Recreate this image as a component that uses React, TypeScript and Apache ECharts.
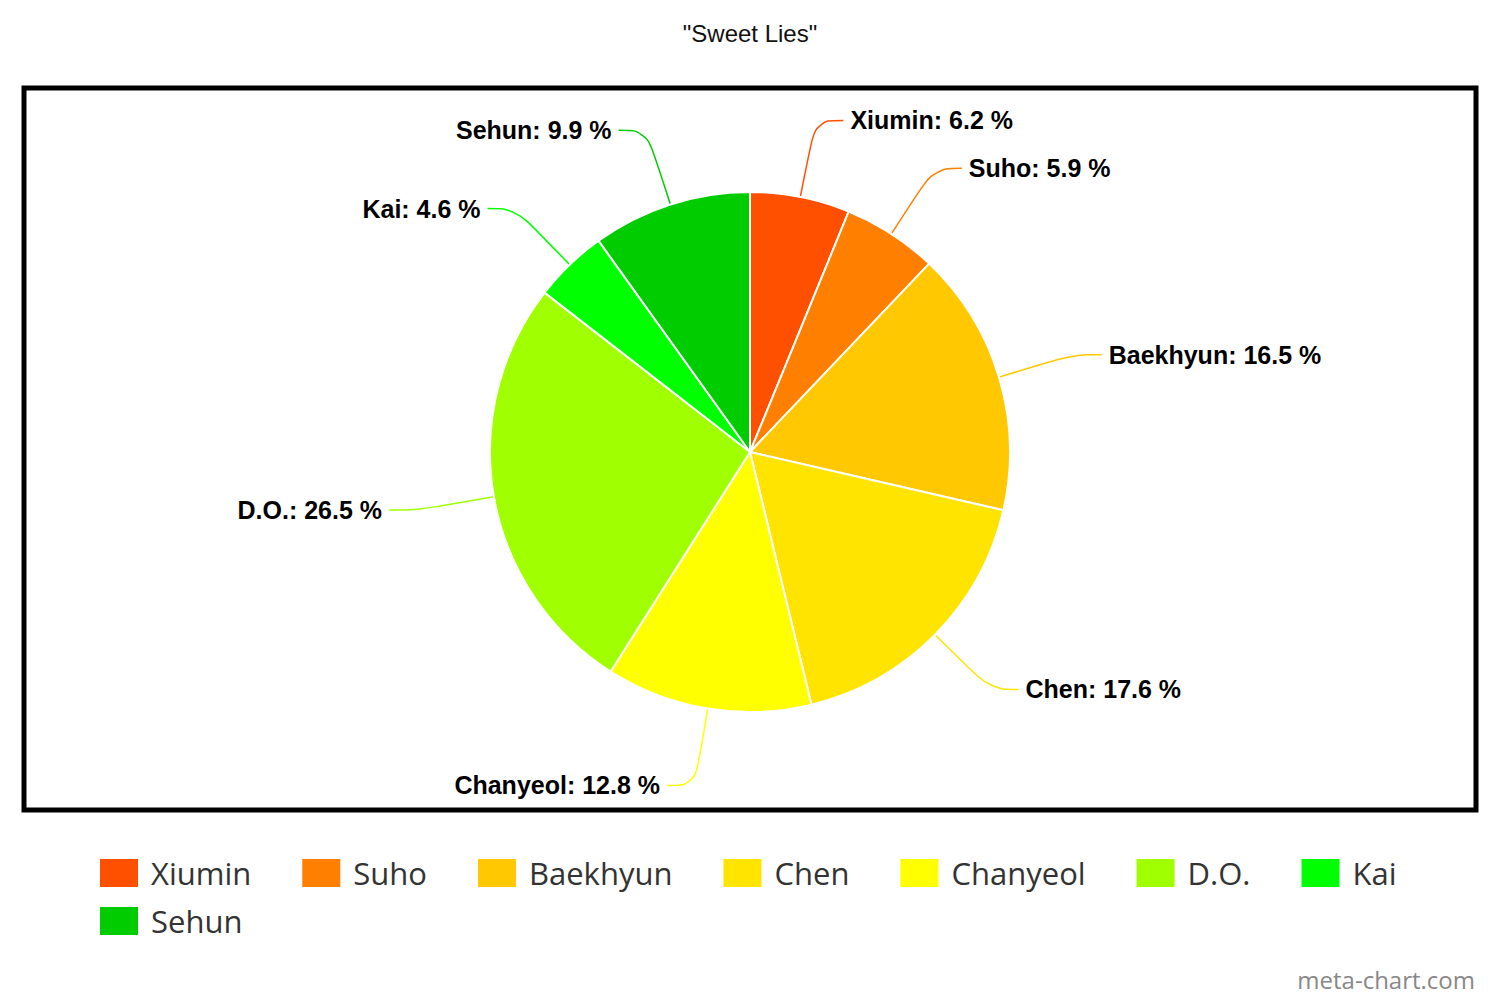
import React, { useEffect, useRef } from 'react';
import * as echarts from 'echarts';

// 成员与占比
const members = ['Xiumin', 'Suho', 'Baekhyun', 'Chen', 'Chanyeol', 'D.O.', 'Kai', 'Sehun'];
const shares = [6.2, 5.9, 16.5, 17.6, 12.8, 26.5, 4.6, 9.9];
const sliceColors = ['#ff5000', '#ff7f00', '#ffc800', '#ffe400', '#ffff00', '#a0ff00', '#00ff00', '#00cc00'];

const chartTitle = '"Sweet Lies"';
const credit = 'meta-chart.com';

export default function App() {
  const chartRef = useRef<HTMLDivElement>(null);

  useEffect(() => {
    if (!chartRef.current) return;
    const chart = echarts.init(chartRef.current, null, { renderer: 'svg' });

    const pieData = members.map((name, i) => ({
      name,
      value: shares[i],
      itemStyle: { color: sliceColors[i] }
    }));

    const legendText = {
      fontFamily: 'Open Sans',
      fontSize: 31,
      color: '#333',
      padding: [0, 0, 0, 7]
    };

    const option: echarts.EChartsOption = {
      animation: false,
      backgroundColor: '#fff',
      title: {
        text: chartTitle,
        left: 'center',
        top: 16,
        textStyle: {
          fontFamily: 'Liberation Sans',
          fontSize: 24,
          fontWeight: 'normal',
          color: '#111'
        }
      },
      legend: [
        {
          data: members.slice(0, 7),
          left: 98,
          top: 857,
          padding: 0,
          itemWidth: 40,
          itemHeight: 30,
          itemGap: 49,
          icon: 'rect',
          textStyle: legendText,
          selectedMode: false
        },
        {
          data: members.slice(7),
          left: 98,
          top: 905,
          padding: 0,
          itemWidth: 40,
          itemHeight: 30,
          icon: 'rect',
          textStyle: legendText,
          selectedMode: false
        }
      ],
      graphic: [
        {
          type: 'rect',
          shape: { x: 24, y: 88, width: 1452, height: 722 },
          style: { fill: 'none', stroke: '#000', lineWidth: 5 },
          z: 10
        },
        {
          type: 'text',
          right: 25,
          top: 967,
          style: {
            text: credit,
            fontFamily: 'Open Sans',
            fontSize: 24,
            fill: '#888'
          }
        }
      ],
      series: [
        {
          type: 'pie',
          center: [750, 452],
          radius: 260,
          startAngle: 90,
          clockwise: true,
          data: pieData,
          itemStyle: { borderColor: '#fff', borderWidth: 2 },
          label: {
            show: true,
            formatter: (p: any) => `${p.name}: ${p.value} %`,
            fontFamily: 'Liberation Sans',
            fontWeight: 'bold',
            fontSize: 25,
            color: '#000',
            distanceToLabelLine: 7
          },
          labelLine: {
            show: true,
            length: 78,
            length2: 28,
            smooth: 0.4,
            lineStyle: { width: 1.5 }
          },
          emphasis: { disabled: true }
        }
      ]
    };

    chart.setOption(option);
    return () => chart.dispose();
  }, []);

  return (
    <div
      ref={chartRef}
      style={{ position: 'absolute', left: 0, top: 0, width: 1500, height: 1000 }}
    />
  );
}
